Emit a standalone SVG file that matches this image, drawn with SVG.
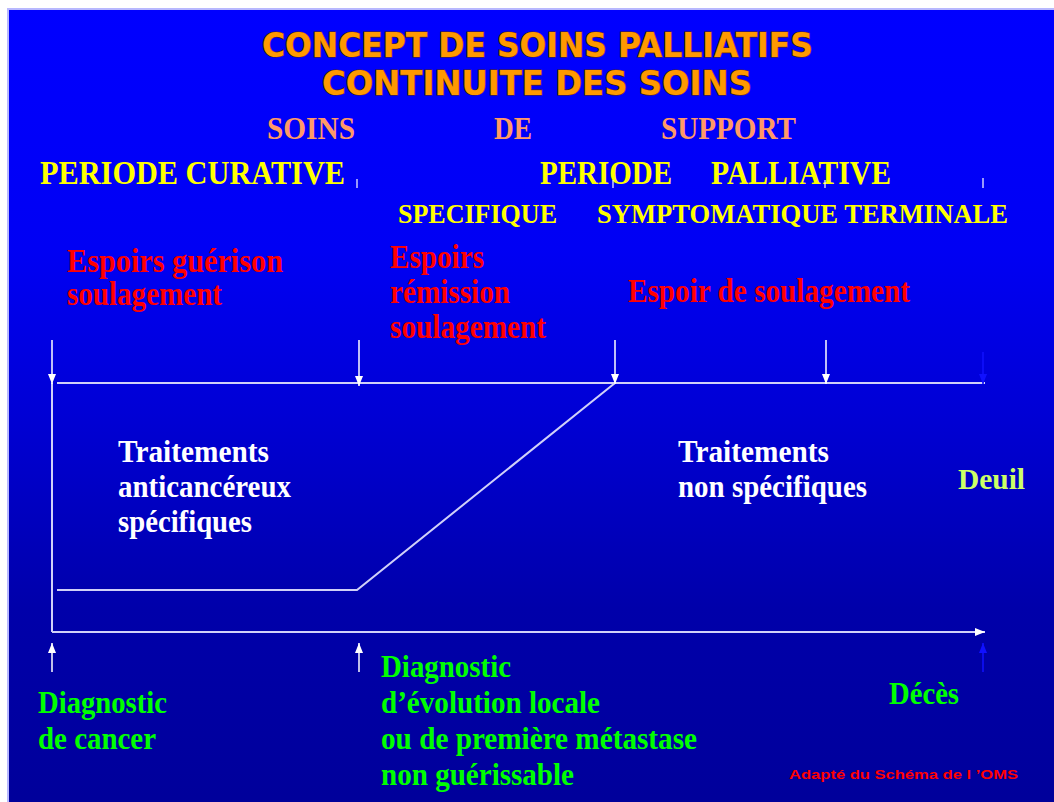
<svg xmlns="http://www.w3.org/2000/svg" width="1054" height="802" viewBox="0 0 1054 802">
<defs>
<linearGradient id="bg" x1="0" y1="0" x2="0" y2="1">
<stop offset="0" stop-color="#0000FF"/>
<stop offset="0.3" stop-color="#0000F4"/>
<stop offset="0.5" stop-color="#0000D6"/>
<stop offset="0.75" stop-color="#0000AA"/>
<stop offset="1" stop-color="#00009A"/>
</linearGradient>
<marker id="aw" viewBox="0 0 10 8" refX="10" refY="4" markerWidth="10" markerHeight="8" markerUnits="userSpaceOnUse" orient="auto">
<path d="M0,0 L10,4 L0,8 z" fill="#FFFFFF"/>
</marker>
<marker id="ab" viewBox="0 0 10 8" refX="10" refY="4" markerWidth="10" markerHeight="8" markerUnits="userSpaceOnUse" orient="auto">
<path d="M0,0 L10,4 L0,8 z" fill="#1010FF"/>
</marker>
<style>
.title{font-family:"DejaVu Sans Condensed","DejaVu Sans",sans-serif;font-weight:bold;font-size:33px;fill:#FF9900;stroke:#5A2A00;stroke-width:1.2px;paint-order:stroke}
.tnr{font-family:"Liberation Serif",serif;font-weight:bold}
.sup{font-size:32px;fill:#FF9966}
.per{font-size:33px;fill:#FFFF00}
.sub{font-size:27px;fill:#FFFF00}
.red{font-size:33px;fill:#FF0000}
.wht{font-size:31px;fill:#FFFFFF}
.grn{font-size:32px;fill:#00FF00}
.deuil{font-size:29px;fill:#CCFF66}
.src{font-family:"Liberation Sans",Arial,sans-serif;font-weight:bold;font-size:13px;fill:#FF0000}
.ln{stroke:#D0D0F8;stroke-width:2;fill:none}
.ar{stroke:#FFFFFF;stroke-width:1.5;fill:none}
.tick{stroke:#FFFFFF;stroke-width:1.2}
</style>
</defs>
<rect x="0" y="0" width="1054" height="802" fill="#FFFFFF"/>
<rect x="8" y="9" width="1050" height="800" fill="url(#bg)" stroke="#B8B8FF" stroke-width="2"/>

<g id="title">
<text class="title" x="262" y="57" textLength="551" lengthAdjust="spacingAndGlyphs">CONCEPT DE SOINS PALLIATIFS</text>
<text class="title" x="322" y="95" textLength="430" lengthAdjust="spacingAndGlyphs">CONTINUITE DES SOINS</text>
</g>

<g id="soins-support">
<text class="tnr sup" x="267" y="139" textLength="88" lengthAdjust="spacingAndGlyphs">SOINS</text>
<text class="tnr sup" x="494" y="139" textLength="38" lengthAdjust="spacingAndGlyphs">DE</text>
<text class="tnr sup" x="661" y="139" textLength="135" lengthAdjust="spacingAndGlyphs">SUPPORT</text>
</g>

<g id="periodes">
<text class="tnr per" x="40" y="184" textLength="305" lengthAdjust="spacingAndGlyphs">PERIODE  CURATIVE</text>
<text class="tnr per" x="540" y="184" textLength="132" lengthAdjust="spacingAndGlyphs">PERIODE</text>
<text class="tnr per" x="711" y="184" textLength="180" lengthAdjust="spacingAndGlyphs">PALLIATIVE</text>
<line class="tick" x1="357" y1="179" x2="357" y2="188"/>
<line class="tick" x1="613" y1="180" x2="613" y2="188"/>
<line class="tick" x1="825" y1="180" x2="825" y2="188"/>
<line class="tick" x1="983" y1="178" x2="983" y2="188"/>
</g>

<g id="sous-periodes">
<text class="tnr sub" x="398" y="223" textLength="159" lengthAdjust="spacingAndGlyphs">SPECIFIQUE</text>
<text class="tnr sub" x="597" y="223" textLength="411" lengthAdjust="spacingAndGlyphs">SYMPTOMATIQUE TERMINALE</text>
</g>

<g id="espoir-curatif">
<text class="tnr red" x="67" y="272" textLength="216" lengthAdjust="spacingAndGlyphs">Espoirs  guérison</text>
<text class="tnr red" x="67" y="305" textLength="155" lengthAdjust="spacingAndGlyphs">soulagement</text>
</g>
<g id="espoir-remission">
<text class="tnr red" x="390" y="268" textLength="94" lengthAdjust="spacingAndGlyphs">Espoirs</text>
<text class="tnr red" x="390" y="303" textLength="120" lengthAdjust="spacingAndGlyphs">rémission</text>
<text class="tnr red" x="390" y="338" textLength="156" lengthAdjust="spacingAndGlyphs">soulagement</text>
</g>
<g id="espoir-soulagement">
<text class="tnr red" x="628" y="302" textLength="282" lengthAdjust="spacingAndGlyphs">Espoir de soulagement</text>
</g>

<g id="traitements-specifiques">
<text class="tnr wht" x="118" y="462" textLength="151" lengthAdjust="spacingAndGlyphs">Traitements</text>
<text class="tnr wht" x="118" y="497" textLength="173" lengthAdjust="spacingAndGlyphs">anticancéreux</text>
<text class="tnr wht" x="118" y="532" textLength="134" lengthAdjust="spacingAndGlyphs">spécifiques</text>
</g>
<g id="traitements-non-specifiques">
<text class="tnr wht" x="678" y="462" textLength="151" lengthAdjust="spacingAndGlyphs">Traitements</text>
<text class="tnr wht" x="678" y="497" textLength="189" lengthAdjust="spacingAndGlyphs">non spécifiques</text>
</g>
<g id="deuil">
<text class="tnr deuil" x="958" y="489" textLength="67" lengthAdjust="spacingAndGlyphs">Deuil</text>
</g>

<g id="diagnostic-cancer">
<text class="tnr grn" x="38" y="713" textLength="129" lengthAdjust="spacingAndGlyphs">Diagnostic</text>
<text class="tnr grn" x="38" y="749" textLength="118" lengthAdjust="spacingAndGlyphs">de cancer</text>
</g>
<g id="diagnostic-evolution">
<text class="tnr grn" x="381" y="677" textLength="130" lengthAdjust="spacingAndGlyphs">Diagnostic</text>
<text class="tnr grn" x="381" y="713" textLength="219" lengthAdjust="spacingAndGlyphs">d’évolution locale</text>
<text class="tnr grn" x="381" y="749" textLength="316" lengthAdjust="spacingAndGlyphs">ou de première métastase</text>
<text class="tnr grn" x="381" y="785" textLength="193" lengthAdjust="spacingAndGlyphs">non guérissable</text>
</g>
<g id="deces">
<text class="tnr grn" x="889" y="704" textLength="70" lengthAdjust="spacingAndGlyphs">Décès</text>
</g>
<g id="source">
<text class="src" x="789" y="779" textLength="229" lengthAdjust="spacingAndGlyphs">Adapté du Schéma de l ’OMS</text>
</g>

<g id="connectors">
<line class="ln" x1="57" y1="383" x2="985" y2="383"/>
<line class="ln" x1="52" y1="383" x2="52" y2="632"/>
<polyline class="ln" points="57,590 357,590 615,383"/>
<line class="ln" x1="52" y1="632" x2="985" y2="632" marker-end="url(#aw)"/>
<line class="ar" x1="52" y1="340" x2="52" y2="384" marker-end="url(#aw)"/>
<line class="ar" x1="359" y1="340" x2="359" y2="386" marker-end="url(#aw)"/>
<line class="ar" x1="615" y1="340" x2="615" y2="384" marker-end="url(#aw)"/>
<line class="ar" x1="826" y1="340" x2="826" y2="384" marker-end="url(#aw)"/>
<line x1="983" y1="352" x2="983" y2="384" stroke="#1010FF" stroke-width="1.5" marker-end="url(#ab)"/>
<line class="ar" x1="52" y1="672" x2="52" y2="643" marker-end="url(#aw)"/>
<line class="ar" x1="359" y1="672" x2="359" y2="643" marker-end="url(#aw)"/>
<line x1="983" y1="672" x2="983" y2="643" stroke="#1010FF" stroke-width="1.5" marker-end="url(#ab)"/>
</g>
</svg>
